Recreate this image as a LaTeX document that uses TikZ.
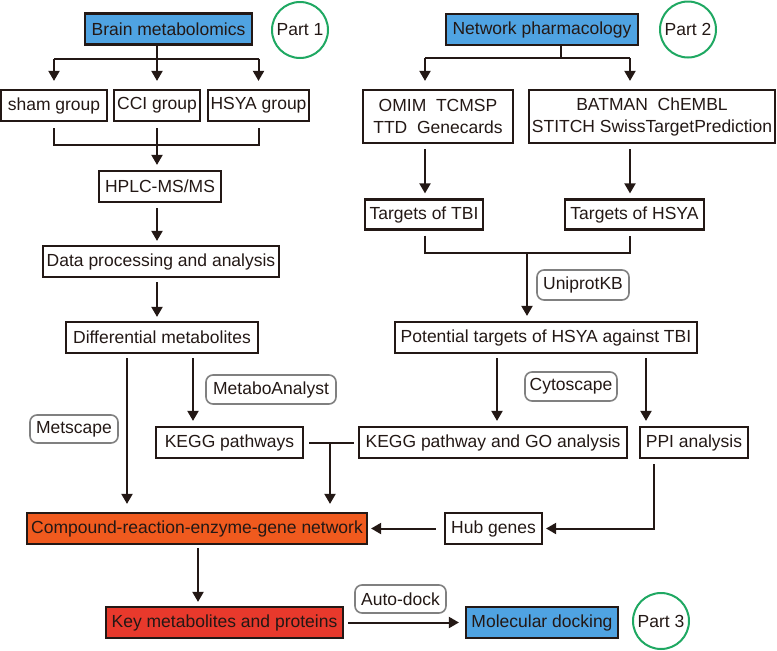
\documentclass[tikz,border=0pt]{standalone}
\usepackage{fontspec}
\setmainfont{Liberation Sans}
\usetikzlibrary{arrows.meta,calc}
\definecolor{lc}{HTML}{231815}
\definecolor{myblue}{HTML}{4FA3E2}
\definecolor{myorange}{HTML}{F05A1E}
\definecolor{myred}{HTML}{E8392C}
\definecolor{mygreen}{HTML}{1FA862}
\definecolor{toolgray}{HTML}{808080}
\begin{document}
\begin{tikzpicture}[x=1pt,y=-1pt,
  box/.style={draw=lc, line width=2.2pt, rectangle, inner sep=0pt, minimum height=31pt, font=\fontsize{17.5}{22}\selectfont, text=lc},
  bluebox/.style={box, fill=myblue},
  tool/.style={draw=toolgray, line width=1.6pt, rounded corners=7pt, minimum height=29pt, inner sep=0pt, font=\fontsize{17.5}{21}\selectfont, text=lc},
  part/.style={circle, draw=mygreen, line width=2pt, minimum size=56pt, inner sep=0pt, font=\fontsize{17.5}{21}\selectfont, text=lc},
  ln/.style={draw=lc, line width=2pt},
  arr/.style={ln, -{Triangle[length=10pt,width=11pt]}},
]
\useasboundingbox (0,0) rectangle (777,651);
% Part 1
\node[bluebox, minimum width=167pt] (bm) at (168.5,29) {Brain metabolomics};
\node[part] (p1) at (300,30) {Part 1};
\node[box, minimum width=106pt] (sham) at (54,105.5) {sham group};
\node[box, minimum width=86pt] (cci) at (157,105.5) {CCI group};
\node[box, minimum width=101pt] (hsya) at (258.5,105.5) {HSYA group};
\node[box, minimum width=122pt] (hplc) at (160,186.5) {HPLC-MS/MS};
\node[box, minimum width=236pt] (data) at (161,261.5) {Data processing and analysis};
\node[box, minimum width=192pt] (diff) at (162,337.5) {Differential metabolites};
\node[tool, minimum width=130pt] (mana) at (271,389.5) {MetaboAnalyst};
\node[tool, minimum width=88pt, minimum height=28pt] (mets) at (74,429) {Metscape};
\node[box, minimum width=147pt] (keggp) at (229.5,442.5) {KEGG pathways};
% Part 2
\node[bluebox, minimum width=192pt] (np) at (542,29.5) {Network pharmacology};
\node[part] (p2) at (688,29.5) {Part 2};
\node[box, minimum width=150pt, minimum height=53pt, align=center] (omim) at (438,116.5) {OMIM\ \ TCMSP\\TTD\ \ Genecards};
\node[box, minimum width=246pt, minimum height=53pt, align=center] (batman) at (652,116.5) {BATMAN\ \ ChEMBL\hspace{28pt}\\STITCH SwissTargetPrediction};
\node[box, minimum width=118pt, minimum height=30pt] (ttbi) at (424,214.5) {Targets of TBI};
\node[box, minimum width=139pt, minimum height=30pt] (thsya) at (634.5,214.5) {Targets of HSYA};
\node[tool, minimum width=92pt, minimum height=30pt] (uni) at (583,285) {UniprotKB};
\node[box, minimum width=302pt] (pot) at (546,337.5) {Potential targets of HSYA against TBI};
\node[tool, minimum width=92pt] (cyto) at (571,386.5) {Cytoscape};
\node[box, minimum width=268pt] (kegggo) at (493,442.5) {KEGG pathway and GO analysis};
\node[box, minimum width=108pt] (ppi) at (694,442.5) {PPI analysis};
% Part 3
\node[box, fill=myorange, minimum width=340pt] (comp) at (197,528.5) {Compound-reaction-enzyme-gene network};
\node[box, minimum width=97pt] (hub) at (493.5,528.5) {Hub genes};
\node[box, fill=myred, minimum width=237pt] (key) at (224.5,622.5) {Key metabolites and proteins};
\node[tool, minimum width=91pt, minimum height=28pt] (auto) at (400.5,599) {Auto-dock};
\node[bluebox, minimum width=152pt] (mol) at (542,622.5) {Molecular docking};
\node[part] (p3) at (661,621) {Part 3};
% x positions
\coordinate (xa) at (127,0);
\coordinate (xb) at (193,0);
\coordinate (xc) at (330,0);
\coordinate (xd) at (497,0);
\coordinate (xe) at (646,0);
\coordinate (xf) at (654,0);
\coordinate (xg) at (198,0);
\coordinate (xh) at (425,0);
\coordinate (xi) at (630,0);
\coordinate (xj) at (527,0);
\coordinate (xk) at (561,0);
% connectors part 1
\draw[ln] (cci |- bm.south) -- ++(0,13) coordinate (s1);
\draw[ln] (s1 -| sham) -- (s1 -| hsya);
\draw[arr, shorten >=8pt] (s1 -| sham) -- (sham.north);
\draw[arr, shorten >=8pt] (s1) -- (cci.north);
\draw[arr, shorten >=8pt] (s1 -| hsya) -- (hsya.north);
\draw[ln] ($(sham.south)+(0,6)$) -- ++(0,17) coordinate (m1) -- (m1 -| hsya) -- ($(hsya.south)+(0,6)$);
\draw[ln] ($(cci.south)+(0,6)$) -- (m1 -| cci);
\draw[arr, shorten >=5pt] (m1 -| cci) -- (hplc.north -| cci);
\draw[arr, shorten <=5pt, shorten >=4pt] (hplc.south -| cci) -- (data.north -| cci);
\draw[arr, shorten <=4pt, shorten >=4pt] (data.south -| cci) -- (diff.north -| cci);
\draw[arr, shorten <=4pt, shorten >=8pt] (diff.south -| xa) -- (comp.north -| xa);
\draw[arr, shorten <=4pt, shorten >=5pt] (diff.south -| xb) -- (keggp.north -| xb);
\draw[ln, shorten <=5pt, shorten >=4pt] (keggp.east) -- (kegggo.west);
\draw[arr, shorten >=8pt] (keggp.east -| xc) -- (comp.north -| xc);
% connectors part 2
\draw[ln] (np.south -| xk) -- ++(0,12) coordinate (s2);
\draw[ln] (s2 -| xh) -- (s2 -| xi);
\draw[arr, shorten >=8pt] (s2 -| xh) -- (omim.north -| xh);
\draw[arr, shorten >=8pt] (s2 -| xi) -- (batman.north -| xi);
\draw[arr, shorten <=5pt, shorten >=5pt] (omim.south -| xh) -- (ttbi.north -| xh);
\draw[arr, shorten <=5pt, shorten >=5pt] (batman.south -| xi) -- (thsya.north -| xi);
\draw[ln] ($(ttbi.south -| xh)+(0,5)$) -- ++(0,17) coordinate (m2) -- (m2 -| xi) -- ($(thsya.south -| xi)+(0,5)$);
\draw[arr, shorten >=5pt] (m2 -| xj) -- (pot.north -| xj);
\draw[arr, shorten <=4pt, shorten >=5pt] (pot.south -| xd) -- (kegggo.north -| xd);
\draw[arr, shorten <=4pt, shorten >=5pt] (pot.south -| xe) -- (ppi.north -| xe);
\draw[arr, shorten <=5pt, shorten >=3pt] (ppi.south -| xf) |- (hub.east);
\draw[arr, shorten <=8pt, shorten >=3pt] (hub.west) -- (comp.east);
% connectors part 3
\draw[arr, shorten <=3pt, shorten >=4pt] (comp.south -| xg) -- (key.north -| xg);
\draw[arr, shorten <=4pt, shorten >=6pt] (key.east) -- (mol.west);
\end{tikzpicture}
\end{document}
